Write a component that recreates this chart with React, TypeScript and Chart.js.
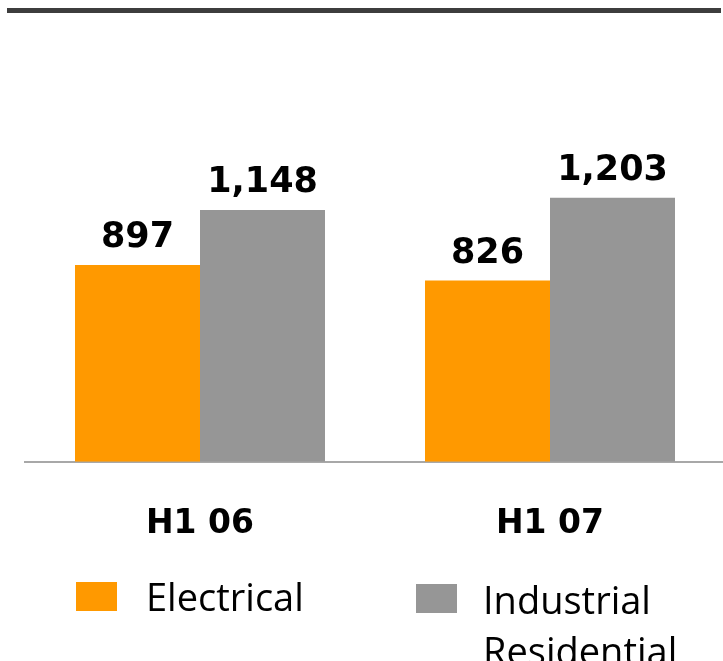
import React, { useEffect, useRef } from "react";
import { Chart, registerables } from "chart.js";

Chart.register(...registerables);

const categories = ["H1 06", "H1 07"];
const electrical = [897, 826];
const industrialResidential = [1148, 1203];
const seriesNames = ["Electrical", "Industrial Residential"];
const seriesLegendLines = [["Electrical"], ["Industrial", "Residential"]];
const seriesColors = ["#FF9900", "#969696"];

const valueLabels = {
  id: "valueLabels",
  afterDatasetsDraw(chart: any) {
    const ctx = chart.ctx;
    ctx.save();
    ctx.font = "bold 35px 'DejaVu Sans'";
    ctx.fillStyle = "#000000";
    ctx.textAlign = "center";
    ctx.textBaseline = "alphabetic";
    chart.data.datasets.forEach((ds: any, di: number) => {
      const meta = chart.getDatasetMeta(di);
      meta.data.forEach((bar: any, i: number) => {
        const v = ds.data[i] as number;
        ctx.fillText(v.toLocaleString("en-US"), bar.x, bar.y - 18);
      });
    });
    ctx.restore();
  },
};

export default function App() {
  const ref = useRef<HTMLCanvasElement | null>(null);
  useEffect(() => {
    if (!ref.current) return;
    const chart = new Chart(ref.current, {
      type: "bar",
      data: {
        labels: categories,
        datasets: [
          {
            label: seriesNames[0],
            data: electrical,
            backgroundColor: seriesColors[0],
            borderWidth: 0,
            categoryPercentage: 0.7143,
            barPercentage: 1,
          },
          {
            label: seriesNames[1],
            data: industrialResidential,
            backgroundColor: seriesColors[1],
            borderWidth: 0,
            categoryPercentage: 0.7143,
            barPercentage: 1,
          },
        ],
      },
      options: {
        responsive: false,
        maintainAspectRatio: false,
        animation: false,
        layout: { padding: { left: 25, right: 0, top: 23, bottom: 73.6 } },
        plugins: { legend: { display: false }, tooltip: { enabled: false } },
        scales: {
          x: {
            grid: { display: false, drawTicks: false },
            border: { display: true, color: "#a8a8a8", width: 2 },
            ticks: {
              color: "#000000",
              padding: 43,
              font: { family: "'DejaVu Sans'", weight: "bold", size: 33 },
            },
          },
          y: { display: false, min: 0, max: 2000 },
        },
      },
      plugins: [valueLabels],
    });
    return () => chart.destroy();
  }, []);

  const legendText: React.CSSProperties = {
    position: "absolute",
    fontFamily: "'Open Sans'",
    fontSize: 38,
    lineHeight: "51px",
    color: "#000",
    whiteSpace: "nowrap",
  };

  return (
    <div
      style={{
        position: "absolute",
        left: 0,
        top: 0,
        width: 723,
        height: 661,
        overflow: "hidden",
        background: "#fff",
      }}
    >
      <div
        style={{
          position: "absolute",
          left: 7,
          top: 8,
          width: 714,
          height: 5,
          background: "#3d3d3d",
        }}
      />
      <canvas
        ref={ref}
        width={725}
        height={661}
        style={{ position: "absolute", left: 0, top: 0, width: 725, height: 661 }}
      />
      <div style={{ position: "absolute", left: 76, top: 582, width: 41, height: 29, background: seriesColors[0] }} />
      <div style={{ ...legendText, left: 146, top: 571 }}>
        {seriesLegendLines[0].map((l) => (
          <div key={l}>{l}</div>
        ))}
      </div>
      <div style={{ position: "absolute", left: 416, top: 584, width: 41, height: 29, background: seriesColors[1] }} />
      <div style={{ ...legendText, left: 483, top: 573.6 }}>
        {seriesLegendLines[1].map((l) => (
          <div key={l}>{l}</div>
        ))}
      </div>
    </div>
  );
}
